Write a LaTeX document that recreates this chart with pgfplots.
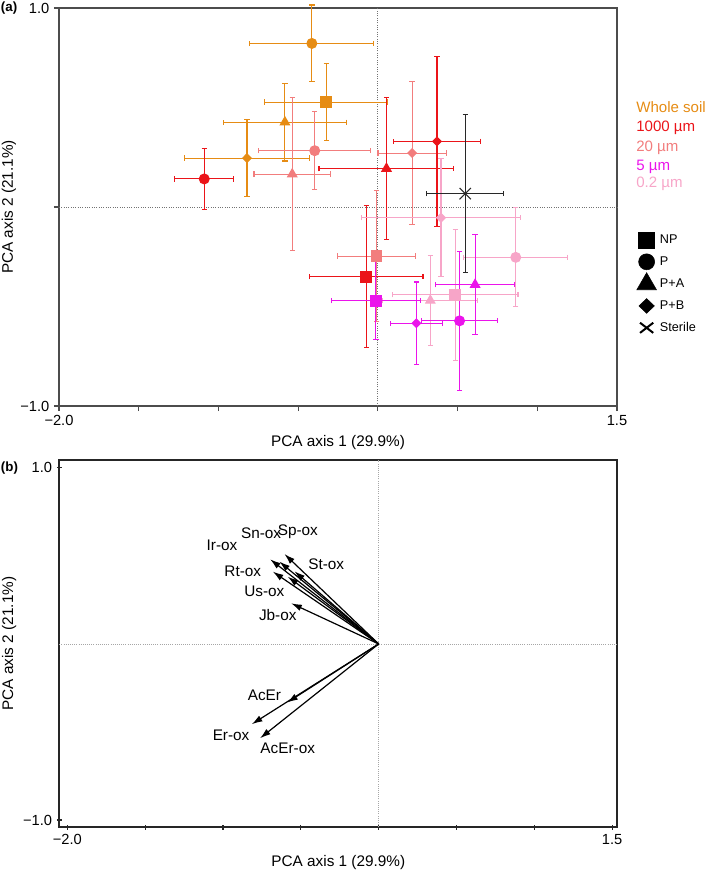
\documentclass[border=0pt]{standalone}
\usepackage{fontspec}
\setmainfont{Liberation Sans}
\usepackage{pgfplots}
\pgfplotsset{compat=1.18}
\usetikzlibrary{arrows.meta}
\definecolor{cws}{RGB}{230,140,20}
\definecolor{c1000}{RGB}{235,20,25}
\definecolor{c20}{RGB}{242,125,125}
\definecolor{c5}{RGB}{235,20,235}
\definecolor{c02}{RGB}{247,165,200}
\definecolor{cster}{RGB}{40,40,40}
\newcommand\lbl{\fontsize{11.5}{13.8}\selectfont}
\newcommand\tck{\fontsize{11}{13}\selectfont}
\pgfplotsset{
 pcabase/.style={scale only axis, width=418.5pt, tick pos=left,
   xtick={-2,-1.5,-1,-0.5,0,0.5,1,1.5}, xticklabels={−2.0,,,,,,,1.5},
   tick label style={font=\tck}, label style={font=\lbl},
   xlabel={PCA axis 1 (29.9\%)}, ylabel={PCA axis 2 (21.1\%)},
   major tick length=3.75pt, clip=false,
   ylabel style={at={(axis description cs:-0.09,0.5)}, anchor=center}},
 pcapt/.style={forget plot, only marks, line width=0.8pt,
   error bars/x dir=both, error bars/y dir=both, error bars/x explicit, error bars/y explicit,
   error bars/error bar style={line width=0.8pt},
   error bars/error mark=-,
   error bars/error mark options={rotate=90, line width=0.8pt, mark size=2pt}},
 sq/.style={mark=square*, mark size=4pt},
 ci/.style={mark=*, mark size=3.7pt},
 tr/.style={mark=triangle*, mark size=4pt},
 di/.style={mark=diamond*, mark size=3.2pt, mark options={xscale=1.33}},
}
\begin{document}
\begin{tikzpicture}[>={Latex[length=8pt,width=5pt]}]
\useasboundingbox (0,0) rectangle (531.75pt,-654.75pt);
% ---------------- panel (a)
\begin{axis}[pcabase, at={(44.25pt,-304.5pt)}, anchor=south west, height=298.5pt,
  xmin=-2, xmax=1.5, ymin=-1, ymax=1,
  ytick={-1,0,1}, yticklabels={−1.0,,1.0},
  axis line style={black!70, line width=0.9pt}, tick style={black!70, line width=0.8pt},
  tick align=outside,
  xlabel style={at={(axis description cs:0.5,-0.092)}, anchor=center},
  legend image code/.code={\path[draw=none,fill=none] (-8pt,-8.2pt) rectangle (8pt,8.2pt); \draw[#1] plot coordinates {(0pt,0pt)};},
  legend style={at={(axis description cs:1.034,0.4447)}, anchor=north west, draw=none, fill=none,
    inner sep=0pt, outer sep=0pt, row sep=0pt, column sep=2pt,
    font=\fontsize{9.5}{11}\selectfont, nodes={inner sep=0pt, draw=none}},
  legend cell align=left]
\addlegendimage{black, mark=square*, mark size=6pt}
\addlegendentry{NP}
\addlegendimage{black, mark=*, mark size=6pt}
\addlegendentry{P}
\addlegendimage{black, mark=triangle*, mark size=8.5pt}
\addlegendentry{P+A}
\addlegendimage{black, mark=diamond*, mark size=5.5pt, mark options={xscale=1.4}}
\addlegendentry{P+B}
\addlegendimage{black, mark=x, mark size=7pt, mark options={yscale=0.77, line width=1.5pt}}
\addlegendentry{Sterile}
\addplot[forget plot, black!55, densely dotted, line width=0.75pt] coordinates {(0,-1) (0,1)};
\addplot[forget plot, black!55, densely dotted, line width=0.75pt] coordinates {(-2,0) (1.5,0)};
% Whole soil
\addplot[pcapt, cws, sq] coordinates {(-0.323,0.527) +- (0.386,0.195)};
\addplot[pcapt, cws, ci] coordinates {(-0.414,0.822) +- (0.389,0.193)};
\addplot[pcapt, cws, tr] coordinates {(-0.583,0.426) +- (0.385,0.195)};
\addplot[pcapt, cws, di] coordinates {(-0.821,0.246) +- (0.390,0.192)};
% 20 um
\addplot[pcapt, c20, sq] coordinates {(-0.008,-0.247) +- (0.244,0.330)};
\addplot[pcapt, c20, ci] coordinates {(-0.396,0.283) +- (0.350,0.196)};
\addplot[pcapt, c20, tr] coordinates {(-0.537,0.165) +- (0.240,0.384)};
\addplot[pcapt, c20, di] coordinates {(0.215,0.271) +- (0.214,0.361)};
% 1000 um
\addplot[pcapt, c1000, sq] coordinates {(-0.073,-0.350) +- (0.356,0.358)};
\addplot[pcapt, c1000, ci] coordinates {(-1.089,0.141) +- (0.185,0.153)};
\addplot[pcapt, c1000, tr] coordinates {(0.054,0.193) +- (0.423,0.358)};
\addplot[pcapt, c1000, di] coordinates {(0.371,0.330) +- (0.274,0.426)};
% 0.2 um
\addplot[pcapt, c02, sq] coordinates {(0.485,-0.441) +- (0.394,0.328)};
\addplot[pcapt, c02, ci] coordinates {(0.865,-0.253) +- (0.325,0.249)};
\addplot[pcapt, c02, tr] coordinates {(0.329,-0.470) +- (0.298,0.225)};
\addplot[pcapt, c02, di] coordinates {(0.396,-0.054) +- (0.500,0.296)};
% 5 um
\addplot[pcapt, c5, sq] coordinates {(-0.0125,-0.471) +- (0.278,0.197)};
\addplot[pcapt, c5, ci] coordinates {(0.5125,-0.572) +- (0.240,0.350)};
\addplot[pcapt, c5, tr] coordinates {(0.610,-0.390) +- (0.248,0.251)};
\addplot[pcapt, c5, di] coordinates {(0.242,-0.584) +- (0.165,0.207)};
% sterile
\addplot[pcapt, cster, mark=x, mark size=6pt] coordinates {(0.548,0.067) +- (0.241,0.397)};
\end{axis}
\node[font=\fontsize{10}{12}\selectfont\bfseries, anchor=west, inner sep=0pt] at (0.5pt,-6.4pt) {(a)};
\begin{scope}[every node/.style={anchor=west, font=\fontsize{11.3}{13}\selectfont, inner sep=0pt}]
\node[text=cws] at (477pt,-80pt) {Whole soil};
\node[text=c1000] at (477pt,-96.2pt) {1000 µm};
\node[text=c20] at (477pt,-111.2pt) {20 µm};
\node[text=c5] at (477pt,-125.5pt) {5 µm};
\node[text=c02] at (477pt,-138pt) {0.2 µm};
\end{scope}
% ---------------- panel (b)
\begin{axis}[pcabase, at={(44.475pt,-620.25pt)}, anchor=south west, height=275.25pt,
  xmin=-2.0514, xmax=1.533, ymin=-1.040, ymax=1.045,
  ytick={-1,1}, yticklabels={−1.0,1.0},
  axis line style={black!85, line width=1.3pt}, tick style={black!85, line width=0.8pt},
  tick align=center,
  xlabel style={at={(axis description cs:0.5,-0.098)}, anchor=center}]
\addplot[black!35, densely dotted, line width=0.6pt] coordinates {(0,-1.040) (0,1.045)};
\addplot[black!35, densely dotted, line width=0.6pt] coordinates {(-2.0514,0) (1.533,0)};
\addplot[black, line width=0.9pt, ->,
  quiver={u=\thisrow{u}, v=\thisrow{v},
    every arrow/.append style={->}}] table[x=x, y=y] {
x y u v
0 0 -0.697 0.481
0 0 -0.638 0.468
0 0 -0.605 0.511
0 0 -0.541 0.413
0 0 -0.680 0.411
0 0 -0.584 0.382
0 0 -0.562 0.231
0 0 -0.588 -0.333
0 0 -0.815 -0.456
0 0 -0.762 -0.536
};
\begin{scope}[every node/.style={font=\lbl}]
\node at (axis cs:-1.006,0.559) {Ir-ox};
\node at (axis cs:-0.755,0.629) {Sn-ox};
\node at (axis cs:-0.519,0.638) {Sp-ox};
\node at (axis cs:-0.337,0.455) {St-ox};
\node at (axis cs:-0.873,0.411) {Rt-ox};
\node at (axis cs:-0.734,0.301) {Us-ox};
\node at (axis cs:-0.648,0.165) {Jb-ox};
\node at (axis cs:-0.734,-0.290) {AcEr};
\node at (axis cs:-0.948,-0.517) {Er-ox};
\node at (axis cs:-0.584,-0.593) {AcEr-ox};
\end{scope}
\end{axis}
\node[font=\fontsize{10}{12}\selectfont\bfseries, anchor=west, inner sep=0pt] at (0.5pt,-351pt) {(b)};
\end{tikzpicture}
\end{document}
